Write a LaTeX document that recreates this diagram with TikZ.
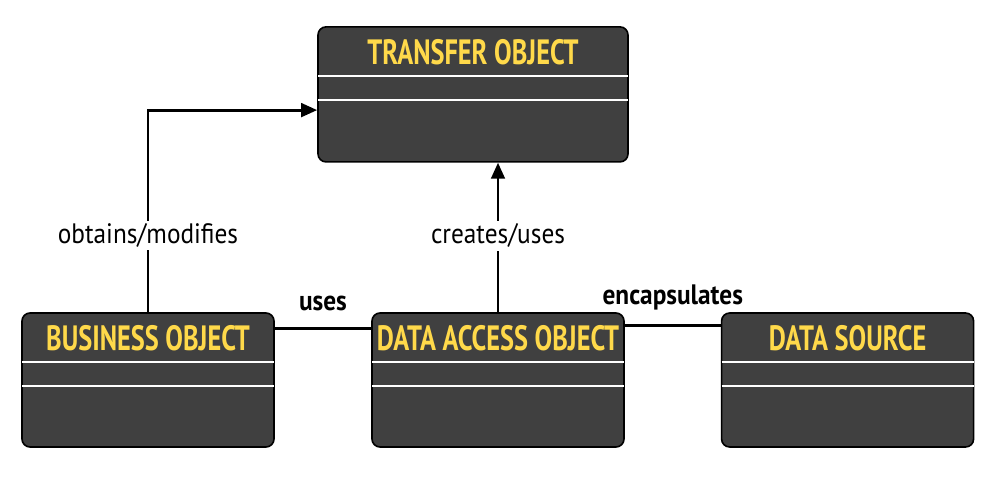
\documentclass[tikz,border=0pt]{standalone}
\usepackage{fontspec}
\setmainfont{PT Sans}[FakeStretch=0.9]
\newfontfamily\titlefont{PT Sans}[FakeStretch=0.75]
\usetikzlibrary{positioning, arrows.meta}
\definecolor{boxgray}{HTML}{404040}
\definecolor{titleyellow}{HTML}{FFD94A}

\begin{document}
\begin{tikzpicture}[
          classbox/.style={rectangle, rounded corners=2mm, draw=black, line width=0.4mm, fill=boxgray, minimum width=6.3cm, minimum height=3.35cm},
          title/.style={text=titleyellow, font=\titlefont\bfseries\fontsize{25}{28}\selectfont, inner sep=0pt},
          sep/.style={white, line width=0.5mm},
          link/.style={line width=0.7mm},
          arrow/.style={link, -{Triangle[length=4mm, width=3.4mm]}},
          lbl/.style={fill=white, inner sep=2pt, font=\fontsize{20}{24}\selectfont},
          blbl/.style={font=\bfseries\fontsize{20}{24}\selectfont, inner sep=0pt}
        ]
          \useasboundingbox (0,0) rectangle (25,-12.5);

          \node[classbox, minimum width=7.75cm, minimum height=3.375cm] (to) at (11.825,-2.36) {};
          \node[classbox] (bo) at (3.7,-9.5) {};
          \node[classbox] (dao) at (12.45,-9.5) {};
          \node[classbox] (ds) at (21.19,-9.5) {};

          % titles and compartment lines
          \foreach \b/\t in {to/TRANSFER OBJECT, bo/BUSINESS OBJECT, dao/DATA ACCESS OBJECT, ds/DATA SOURCE} {
            \node[title] (\b-title) at ([yshift=-6.5mm]\b.north) {\t};
            \draw[sep] ([yshift=-12.5mm, xshift=0.2mm]\b.north west) -- ([yshift=-12.5mm, xshift=-0.2mm]\b.north east);
            \draw[sep] ([yshift=-18.5mm, xshift=0.2mm]\b.north west) -- ([yshift=-18.5mm, xshift=-0.2mm]\b.north east);
          }

          \coordinate (to-in) at ([yshift=-21mm]to.north west);
          \draw[arrow] (bo.north) |- node[lbl, pos=0.19] {obtains/modifies} (to-in);
          \draw[arrow] (dao.north) -- node[lbl, pos=0.51] {creates/uses} (dao.north |- to.south);

          \draw[link] ([yshift=-4mm]bo.north east) -- node[blbl, above=4mm] {uses} ([yshift=-4mm]dao.north west);
          \draw[link] ([yshift=-3.25mm]dao.north east) -- node[blbl, above=3.5mm] {encapsulates} ([yshift=-3.25mm]ds.north west);
\end{tikzpicture}
\end{document}
